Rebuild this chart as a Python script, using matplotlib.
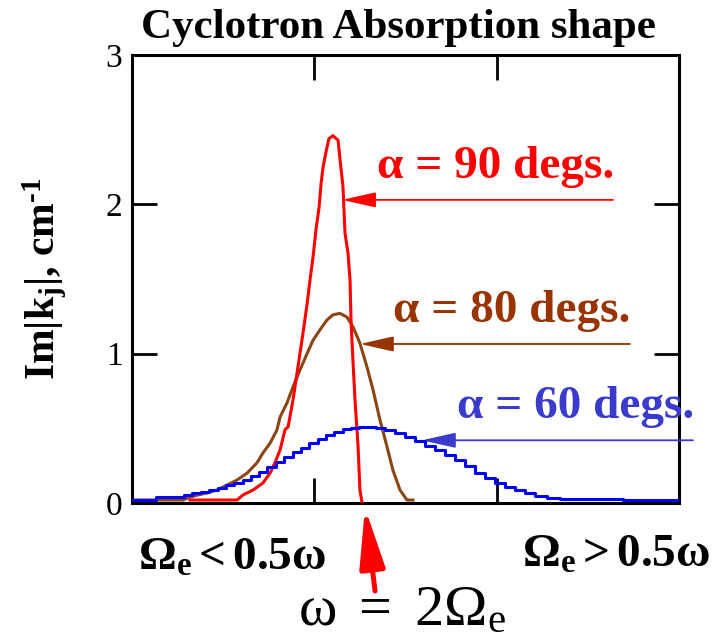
import matplotlib.pyplot as plt

plt.rcParams['font.family'] = ['Liberation Serif', 'DejaVu Serif']
plt.rcParams['mathtext.fontset'] = 'custom'
plt.rcParams['mathtext.rm'] = 'Liberation Serif'
plt.rcParams['mathtext.it'] = 'Liberation Serif:italic'
plt.rcParams['mathtext.bf'] = 'Liberation Serif:bold'

# absorption profiles, Im|k_j| (cm^-1) vs. normalised field position
red_x = [0.318, 0.576, 0.609, 0.664, 0.718, 0.757, 0.784, 0.812, 0.839, 0.856, 0.883,
         0.910, 0.938, 0.960, 0.976, 0.993, 1.009, 1.026, 1.037, 1.048, 1.059, 1.069,
         1.080, 1.102, 1.130, 1.141, 1.157, 1.168, 1.185, 1.196, 1.201, 1.207, 1.223,
         1.240, 1.250, 1.261]
red_y = [0.02, 0.02, 0.054, 0.087, 0.134, 0.20, 0.27, 0.355, 0.49, 0.51, 0.69,
         0.91, 1.14, 1.33, 1.49, 1.65, 1.83, 1.98, 2.14, 2.25, 2.32, 2.38,
         2.44, 2.46, 2.43, 2.30, 2.12, 1.81, 1.67, 1.49, 1.23, 1.07, 0.69,
         0.375, 0.087, 0.007]

brown_x = [0.0, 0.280, 0.318, 0.365, 0.411, 0.466, 0.521, 0.576, 0.631, 0.686, 0.718,
           0.757, 0.795, 0.812, 0.850, 0.883, 0.921, 0.960, 0.993, 1.031, 1.069,
           1.102, 1.141, 1.179, 1.212, 1.250, 1.289, 1.322, 1.360, 1.399, 1.431,
           1.470, 1.508, 1.541]
brown_y = [0.02, 0.02, 0.04, 0.055, 0.067, 0.087, 0.12, 0.154, 0.20, 0.27, 0.335,
           0.40, 0.49, 0.576, 0.67, 0.777, 0.89, 1.00, 1.09, 1.16, 1.225,
           1.26, 1.27, 1.245, 1.18, 1.07, 0.91, 0.757, 0.556, 0.375, 0.22,
           0.087, 0.02, 0.02]

blue_x = [0.0, 0.263, 0.307, 0.356, 0.400, 0.444, 0.494, 0.537, 0.581, 0.631, 0.675,
          0.718, 0.768, 0.812, 0.856, 0.905, 0.949, 0.993, 1.042, 1.086, 1.130,
          1.179, 1.223, 1.267, 1.316, 1.360, 1.415, 1.470, 1.525, 1.580, 1.634,
          1.689, 1.744, 1.799, 1.854, 1.909, 1.963, 2.018, 2.073, 2.128, 2.183,
          2.238, 2.309, 2.386, 3.0]
blue_y = [0.02, 0.04, 0.055, 0.067, 0.077, 0.087, 0.10, 0.12, 0.135, 0.154, 0.18,
          0.21, 0.24, 0.275, 0.305, 0.34, 0.37, 0.40, 0.43, 0.455, 0.475,
          0.495, 0.505, 0.51, 0.51, 0.50, 0.49, 0.47, 0.445, 0.415, 0.385,
          0.355, 0.32, 0.29, 0.245, 0.20, 0.165, 0.134, 0.11, 0.087, 0.065,
          0.047, 0.035, 0.027, 0.02]

fig = plt.figure(figsize=(7.23, 6.42), dpi=100)
ax = fig.add_axes([0.1826, 0.2165, 0.7565, 0.6978])

ax.plot(brown_x, brown_y, color='#8b4513', lw=2.2, zorder=2)
ax.plot(red_x, red_y, color='#ff0000', lw=2.2, zorder=3)
ax.plot(blue_x, blue_y, color='#0000ff', lw=2.2, drawstyle='steps-mid', zorder=4)

ax.set_xlim(0, 3)
ax.set_ylim(0, 3)
ax.set_xticks([1, 2])
ax.set_xticklabels([])
ax.set_yticks([0, 1, 2, 3])
ax.set_yticklabels(['0', '1', '2', '3'], fontsize=24)
ax.tick_params(direction='in', length=18, width=2, top=True, right=True, pad=7)
for s in ax.spines.values():
    s.set_linewidth(2.2)

ax.set_ylabel('Im|k$_{\\mathbf{j}}$|, cm$^{\\mathbf{\u2010}\\mathbf{1}}$', fontsize=30,
              fontweight='bold', labelpad=26)

# curve labels with pointer arrows
labels = [
    ('α = 90 degs.', '#ff0000', (1.344, 2.176), (1.152, 2.03), (2.638, 2.03)),
    ('α = 80 degs.', '#993300', (1.431, 1.212), (1.250, 1.065), (2.731, 1.065)),
    ('α = 60 degs.', '#3a3acc', (1.782, 0.569), (1.590, 0.42), (3.077, 0.42)),
]
for txt, col, tpos, tip, tail in labels:
    ax.text(tpos[0], tpos[1], txt, color=col, fontsize=34, fontweight='bold',
            va='baseline', ha='left', clip_on=False)
    ax.annotate('', xy=tip, xytext=tail, annotation_clip=False,
                arrowprops=dict(arrowstyle='-|>,head_length=0.8,head_width=0.18',
                                mutation_scale=26, lw=1.3, color=col,
                                shrinkA=0, shrinkB=0))

# resonance marker
ax.annotate('', xy=(1.278, -0.033), xytext=(1.333, -0.589), annotation_clip=False,
            arrowprops=dict(arrowstyle='-|>,head_length=1.4,head_width=0.3',
                            mutation_scale=26, lw=3.6, color='#ff0000',
                            shrinkA=0, shrinkB=0))

fig.text(138 / 723, 1 - 570 / 642, r'$\mathbf{\Omega_e < 0.5\omega}$', fontsize=34,
         ha='left', va='baseline')
fig.text(522 / 723, 1 - 567 / 642, r'$\mathbf{\Omega_e > 0.5\omega}$', fontsize=34,
         ha='left', va='baseline')
fig.text(298 / 723, 1 - 625 / 642, r'$\mathrm{\omega\ =\ 2\Omega_e}$', fontsize=42,
         ha='left', va='baseline')

fig.text(398 / 723, 1 - 38 / 642, 'Cyclotron Absorption shape', fontsize=31,
         fontweight='bold', ha='center', va='baseline')

fig.savefig('out.png', dpi=100)
